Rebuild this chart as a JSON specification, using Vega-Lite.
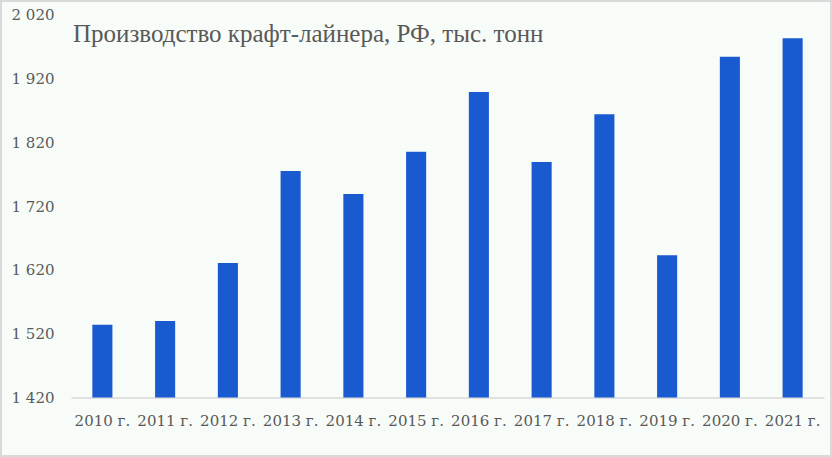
{
  "$schema": "https://vega.github.io/schema/vega-lite/v6.json",
  "width": 830,
  "height": 455,
  "padding": 1,
  "autosize": "none",
  "background": "#f8fcf8",
  "title": {
    "text": "Производство крафт-лайнера, РФ, тыс. тонн",
    "anchor": "start",
    "frame": "group",
    "orient": "top",
    "offset": -43,
    "dx": 72,
    "dy": 23,
    "font": "Liberation Serif",
    "fontSize": 25,
    "fontWeight": "normal",
    "color": "#595959",
    "baseline": "alphabetic"
  },
  "config": {
    "view": {"stroke": "#d9d9d9", "strokeWidth": 2},
    "axis": {"labelFont": "DejaVu Serif", "labelFontSize": 15, "labelColor": "#595959", "grid": false, "ticks": false, "title": null}
  },
  "data": {
    "values": [
      {"year": "2010 г.", "value": 1534},
      {"year": "2011 г.", "value": 1540},
      {"year": "2012 г.", "value": 1631},
      {"year": "2013 г.", "value": 1775},
      {"year": "2014 г.", "value": 1739},
      {"year": "2015 г.", "value": 1805},
      {"year": "2016 г.", "value": 1899},
      {"year": "2017 г.", "value": 1789},
      {"year": "2018 г.", "value": 1864},
      {"year": "2019 г.", "value": 1643},
      {"year": "2020 г.", "value": 1954},
      {"year": "2021 г.", "value": 1983}
    ]
  },
  "mark": {"type": "bar", "color": "#1a5ad1"},
  "encoding": {
    "x": {
      "field": "year",
      "type": "ordinal",
      "sort": null,
      "scale": {"range": [70, 823], "paddingInner": 0.68, "paddingOuter": 0.34},
      "axis": {"labelAngle": 0, "offset": -58.5, "labelPadding": 16, "domainColor": "#d9d9d9", "domainWidth": 1.5}
    },
    "y": {
      "field": "value",
      "type": "quantitative",
      "scale": {"domain": [1420, 2020], "range": [396.5, 13.7], "nice": false, "zero": false},
      "axis": {
        "values": [1420, 1520, 1620, 1720, 1820, 1920, 2020],
        "domain": false,
        "offset": -53,
        "labelPadding": 0,
        "labelExpr": "replace(format(datum.value, ','), ',', ' ')"
      }
    },
    "y2": {"datum": 1420}
  }
}
